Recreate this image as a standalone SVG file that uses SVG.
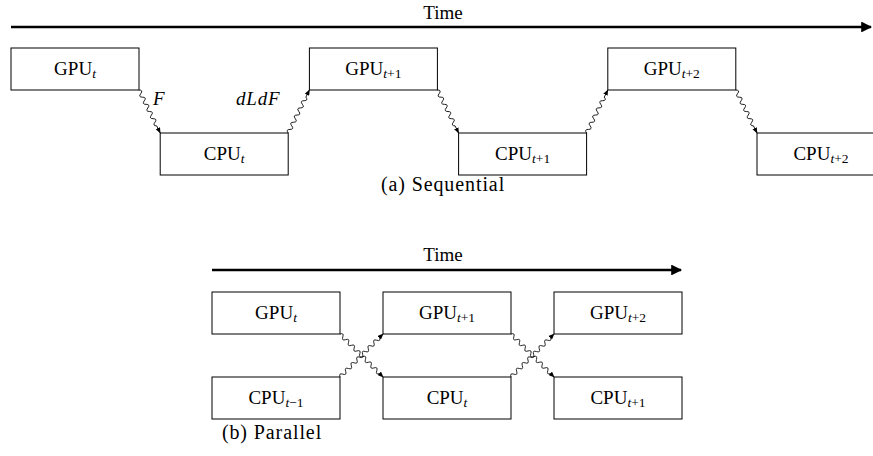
<svg xmlns="http://www.w3.org/2000/svg" xmlns:xlink="http://www.w3.org/1999/xlink" width="873" height="456" viewBox="0 0 873 456">
  <style>
    text { font-family: "Liberation Serif", "DejaVu Serif", serif; fill: #000; }
    .lbl { font-size: 19px; text-anchor: middle; }
    .sub { font-size: 13.5px; font-style: italic; }
    .subr { font-size: 13.5px; }
    .math { font-size: 19px; font-style: italic; letter-spacing: 0.8px; }
    .cap { font-size: 20px; text-anchor: middle; letter-spacing: 0.9px; }
    .box { fill: #fff; stroke: #000; stroke-width: 1; }
    .time { stroke: #000; stroke-width: 2.6; fill: none; }
    .snake { fill: none; stroke: #000; stroke-width: 0.8; marker-end: url(#tip); }
  </style>
  <defs>
    <marker id="tip" viewBox="0 0 10 8" refX="9" refY="4" markerWidth="6" markerHeight="5" markerUnits="userSpaceOnUse" orient="auto">
      <path d="M0,0 L10,4 L0,8 z" fill="#000"/>
    </marker>
    <marker id="bigtip" viewBox="0 0 10 10" refX="9" refY="5" markerWidth="4.2" markerHeight="4.2" orient="auto">
      <path d="M0,0 L10,5 L0,10 z" fill="#000"/>
    </marker>
    <!-- wavy connector drawn along +x, length ~48 -->
    <path id="snakeShort" class="snake" d="M0,0 q2,-4 4,0 t4,0 t4,0 t4,0 t4,0 t4,0 t4,0 t4,0 t4,0 t4,0 L48,0"/>
    <!-- wavy connector drawn along +x, length ~61 -->
    <path id="snakeLong" class="snake" d="M0,0 q2,-4 4,0 t4,0 t4,0 t4,0 t4,0 t4,0 t4,0 t4,0 t4,0 t4,0 t4,0 t4,0 t4,0 t4,0 L61,0"/>
  </defs>

  <!-- (a) sequential schedule -->
  <g id="time-a">
    <line class="time" x1="11" y1="27" x2="871" y2="27" marker-end="url(#bigtip)"/>
    <text class="lbl" x="443" y="19">Time</text>
  </g>

  <g id="gpu-a0"><rect class="box" x="11" y="48" width="128" height="42"/><text class="lbl" x="75" y="75">GPU<tspan class="sub" dy="3">t</tspan></text></g>
  <g id="cpu-a0"><rect class="box" x="160.2" y="133" width="128" height="42"/><text class="lbl" x="224.2" y="160">CPU<tspan class="sub" dy="3">t</tspan></text></g>
  <g id="gpu-a1"><rect class="box" x="309.4" y="48" width="128" height="42"/><text class="lbl" x="373.4" y="75">GPU<tspan class="sub" dy="3">t</tspan><tspan class="subr">+1</tspan></text></g>
  <g id="cpu-a1"><rect class="box" x="458.6" y="133" width="128" height="42"/><text class="lbl" x="522.6" y="160">CPU<tspan class="sub" dy="3">t</tspan><tspan class="subr">+1</tspan></text></g>
  <g id="gpu-a2"><rect class="box" x="607.8" y="48" width="128" height="42"/><text class="lbl" x="671.8" y="75">GPU<tspan class="sub" dy="3">t</tspan><tspan class="subr">+2</tspan></text></g>
  <g id="cpu-a2"><rect class="box" x="757" y="133" width="128" height="42"/><text class="lbl" x="821" y="160">CPU<tspan class="sub" dy="3">t</tspan><tspan class="subr">+2</tspan></text></g>

  <g id="connectors-a">
    <use xlink:href="#snakeShort" transform="translate(139,90) rotate(63.76)"/>
    <use xlink:href="#snakeShort" transform="translate(288.2,133) rotate(-63.76)"/>
    <use xlink:href="#snakeShort" transform="translate(437.4,90) rotate(63.76)"/>
    <use xlink:href="#snakeShort" transform="translate(586.6,133) rotate(-63.76)"/>
    <use xlink:href="#snakeShort" transform="translate(735.8,90) rotate(63.76)"/>
    <text class="math" x="153" y="105">F</text>
    <text class="math" x="236" y="105">dLdF</text>
  </g>

  <text class="cap" x="443" y="191">(a) Sequential</text>

  <!-- (b) parallel schedule -->
  <g id="time-b">
    <line class="time" x1="212" y1="270" x2="681" y2="270" marker-end="url(#bigtip)"/>
    <text class="lbl" x="443" y="261">Time</text>
  </g>

  <g id="gpu-b0"><rect class="box" x="212" y="292" width="128" height="42"/><text class="lbl" x="276" y="319">GPU<tspan class="sub" dy="3">t</tspan></text></g>
  <g id="cpu-b0"><rect class="box" x="212" y="377" width="128" height="42"/><text class="lbl" x="276" y="404">CPU<tspan class="sub" dy="3">t</tspan><tspan class="subr">−1</tspan></text></g>
  <g id="gpu-b1"><rect class="box" x="383" y="292" width="128" height="42"/><text class="lbl" x="447" y="319">GPU<tspan class="sub" dy="3">t</tspan><tspan class="subr">+1</tspan></text></g>
  <g id="cpu-b1"><rect class="box" x="383" y="377" width="128" height="42"/><text class="lbl" x="447" y="404">CPU<tspan class="sub" dy="3">t</tspan></text></g>
  <g id="gpu-b2"><rect class="box" x="554" y="292" width="128" height="42"/><text class="lbl" x="618" y="319">GPU<tspan class="sub" dy="3">t</tspan><tspan class="subr">+2</tspan></text></g>
  <g id="cpu-b2"><rect class="box" x="554" y="377" width="128" height="42"/><text class="lbl" x="618" y="404">CPU<tspan class="sub" dy="3">t</tspan><tspan class="subr">+1</tspan></text></g>

  <g id="connectors-b">
    <use xlink:href="#snakeLong" transform="translate(340,334) rotate(45)"/>
    <use xlink:href="#snakeLong" transform="translate(340,377) rotate(-45)"/>
    <use xlink:href="#snakeLong" transform="translate(511,334) rotate(45)"/>
    <use xlink:href="#snakeLong" transform="translate(511,377) rotate(-45)"/>
  </g>

  <text class="cap" x="272" y="439">(b) Parallel</text>
</svg>
